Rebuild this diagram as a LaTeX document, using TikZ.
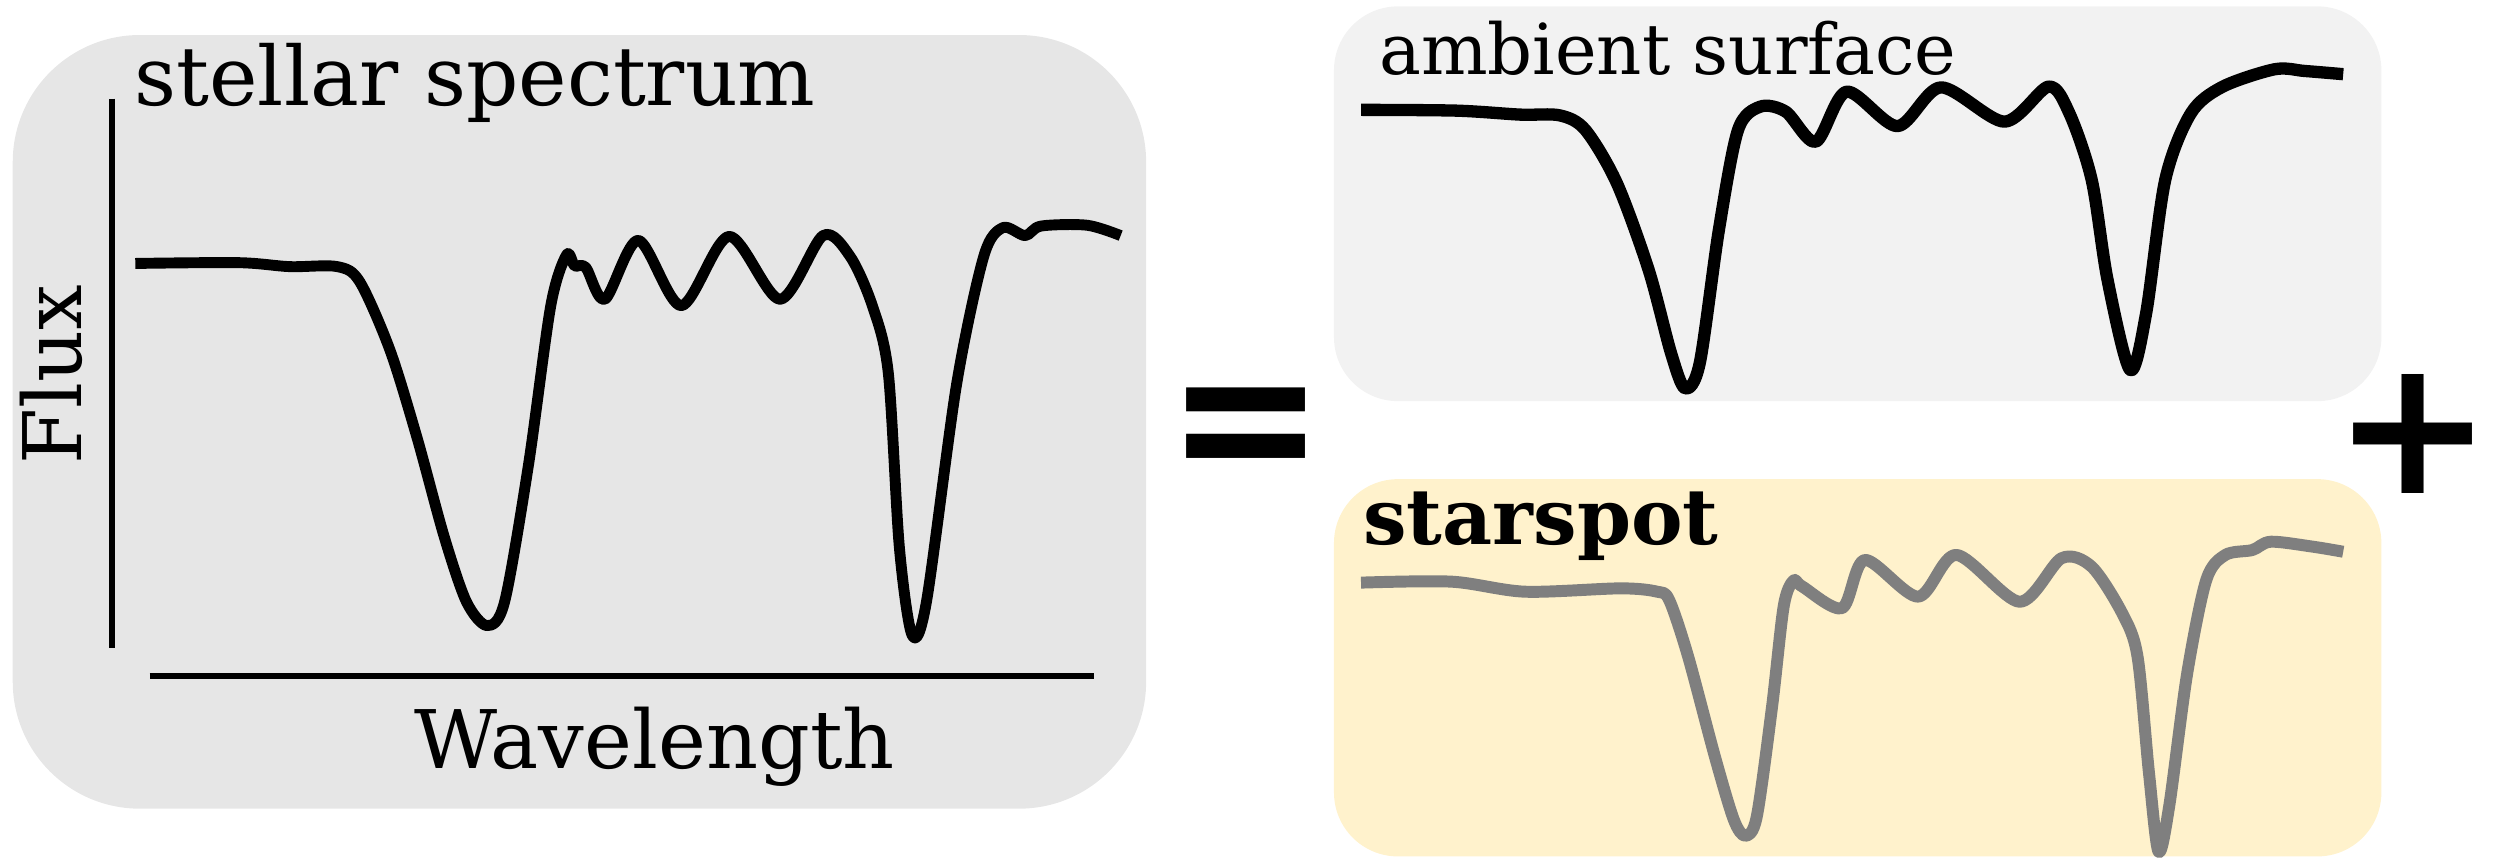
\documentclass[tikz,border=0pt]{standalone}
\usepackage{fontspec}
\setmainfont{DejaVu Serif}
\newfontfamily\signfont{DejaVu Sans}
\usetikzlibrary{positioning}
\definecolor{fullgray}{HTML}{E6E6E6}
\definecolor{ambientgray}{HTML}{F2F2F2}
\definecolor{spotyellow}{HTML}{FFF2CC}
\definecolor{spotline}{HTML}{7F7F7F}
\tikzset{
  bigpanel/.style={fill=fullgray,rounded corners=1.27cm},
  smallpanel/.style={rounded corners=0.64cm},
  spectrum/.style={line width=3.1pt,line join=round,smooth,tension=0.5},
  axisline/.style={line width=1.8pt},
  title/.style={inner sep=0pt,anchor=base west,font=\fontsize{20}{24}\selectfont},
  axislabel/.style={inner sep=0pt,anchor=base west,font=\fontsize{23}{28}\selectfont},
  sign/.style={inner sep=0pt,font=\signfont\bfseries\fontsize{54}{60}\selectfont},
}

\begin{document}
\begin{tikzpicture}[x=0.01592cm,y=-0.01592cm]
\useasboundingbox (0,0) rectangle (1568,539);

% the three panels
\path[bigpanel] (8,22) rectangle (720,508);
\path[smallpanel,fill=ambientgray] (838,4) rectangle (1496,252);
\path[smallpanel,fill=spotyellow] (838,301) rectangle (1496,538);

% axes of the full spectrum
\coordinate (ytop) at (70.5,62);
\coordinate (ybot) at (70.5,407);
\coordinate (xleft) at (94,424.5);
\coordinate (xright) at (687,424.5);
\draw[axisline] (ytop) -- (ybot);
\draw[axisline] (xleft) -- (xright);

% labels
\node[title,font=\fontsize{23.3}{28}\selectfont] (stellar) at (84,66) {stellar spectrum};
\node[axislabel] (wave) at (260,482.6) {Wavelength};
\node[axislabel,rotate=90] (flux) at (51.3,292) {Flux};
\node[title] (ambient) at (866,47) {ambient surface};
\node[title,font=\bfseries\fontsize{22}{26}\selectfont] (spot) at (856,342) {starspot};

% equal and plus
\node[sign,yscale=1.1] (equal) at (783,275.5) {=};
\node[sign] (plus) at (1516,272.7) {+};

% full spectrum
\draw[spectrum] plot coordinates {(85,165.5) (150,165) (182,167.5) (212,167.5)
  (226,177) (245,220) (262,275) (279,337) (293,378) (306,393) (317,378)
  (332,292) (346,192) (356,160) (361,167) (368,168) (380,188) (401,151)
  (428,192) (458,148.5) (490,188) (517,148) (534,161) (548,192) (558,234)
  (565,344) (573,399) (582,378) (601,241) (618,161) (630,143) (644,148)
  (654,142) (683,141.5) (704,148)};

% ambient surface
\draw[spectrum,line width=3.5pt] plot coordinates {(855,69) (915,69.5) (955,72)
  (980,72.5) (996,81.7) (1015.7,115) (1035.7,169.6) (1049.8,222) (1058.6,244)
  (1067.8,228) (1079.8,144.5) (1091.8,81.7) (1105.8,67) (1121.9,70.2)
  (1140.7,89) (1160,57.6) (1192,79.2) (1219.3,54.9) (1259.2,76.4)
  (1286.9,54.4) (1300,71.2) (1314,113) (1324,176) (1338.2,232.4)
  (1348.2,196.8) (1360.2,113) (1376.3,71.2) (1396.2,54.5) (1429,43.5)
  (1448,44.6) (1472,46.6)};

% starspot
\draw[spectrum,line width=3.4pt,spotline] plot coordinates {(855,366) (912,365.4)
  (958,371.7) (1018,369.6) (1041,371.7) (1048.6,377) (1060.5,412.5)
  (1077.3,475.3) (1089.2,515) (1096.5,525) (1103.6,513) (1113.2,444)
  (1120.5,381) (1126.6,364.8) (1132.3,368.5) (1157.2,382) (1171.5,351.8)
  (1205,374.8) (1229,348.6) (1268.7,378) (1295,350.7) (1314,356)
  (1333.2,385.3) (1342.8,412.5) (1350,485.7) (1356,535) (1362.7,506.4)
  (1374,423) (1386,364.3) (1398,348.6) (1415,345.5) (1426.5,340.3)
  (1452.8,343.4) (1472,346.6)};

\end{tikzpicture}
\end{document}
